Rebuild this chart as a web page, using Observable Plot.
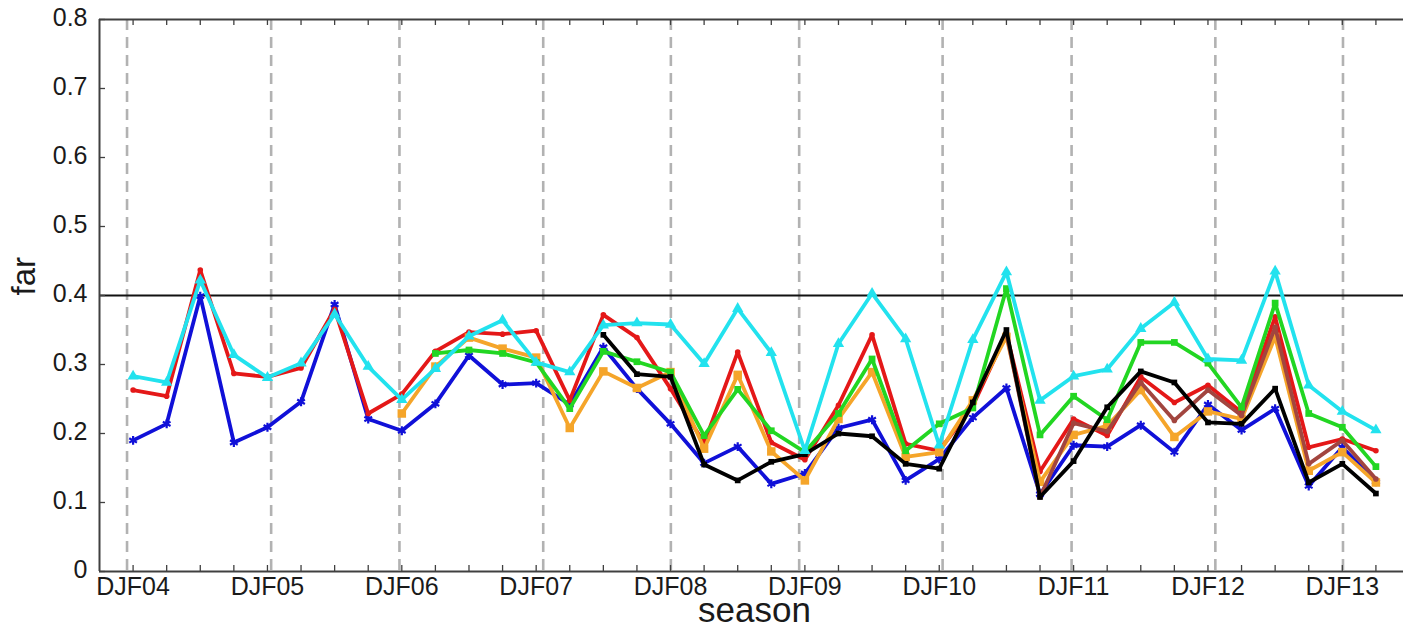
<!DOCTYPE html>
<html>
<head>
<meta charset="utf-8">
<script src="https://cdn.jsdelivr.net/npm/d3@7"></script>
<script src="https://cdn.jsdelivr.net/npm/@observablehq/plot@0.6"></script>
<style>
  html, body { margin: 0; padding: 0; overflow: hidden; background: #fff; }
  #chart { width: 1420px; }
</style>
</head>
<body>
<div id="chart"></div>
<script>
// ---- tick labels / categories ----
const seasons = [
  "DJF04","MAM04","JJA04","SON04",
  "DJF05","MAM05","JJA05","SON05",
  "DJF06","MAM06","JJA06","SON06",
  "DJF07","MAM07","JJA07","SON07",
  "DJF08","MAM08","JJA08","SON08",
  "DJF09","MAM09","JJA09","SON09",
  "DJF10","MAM10","JJA10","SON10",
  "DJF11","MAM11","JJA11","SON11",
  "DJF12","MAM12","JJA12","SON12",
  "DJF13","MAM13"
];
const labelledSeasons = ["DJF04","DJF05","DJF06","DJF07","DJF08","DJF09","DJF10","DJF11","DJF12","DJF13"];
// dashed year separators (position on the season index axis)
const yearSeparators = [-0.18, 4.11, 7.93, 12.21, 16.01, 19.83, 24.1, 27.94, 32.22, 36.02];
const yTicks = [0, 0.1, 0.2, 0.3, 0.4, 0.5, 0.6, 0.7, 0.8];
const yTickLabels = ["0", "0.1", "0.2", "0.3", "0.4", "0.5", "0.6", "0.7", "0.8"];
const referenceLevel = [0.4];

// ---- series values (null = no value) ----
const blueValues = [0.190,0.214,0.399,0.187,0.209,0.246,0.387,0.221,0.204,0.243,0.313,0.271,0.273,0.242,0.325,0.265,0.214,0.157,0.181,0.127,0.142,0.208,0.220,0.132,0.163,0.223,0.266,0.112,0.183,0.181,0.212,0.173,0.242,0.205,0.236,0.124,0.180,0.130];
const redValues = [0.263,0.254,0.437,0.287,0.282,0.295,0.380,0.229,0.257,0.319,0.347,0.344,0.349,0.248,0.372,0.339,0.265,0.186,0.318,0.187,0.162,0.241,0.343,0.185,0.175,0.240,0.345,0.145,0.221,0.197,0.282,0.245,0.270,0.231,0.369,0.180,0.192,0.175];
const cyanValues = [0.283,0.274,0.422,0.314,0.281,0.302,0.373,0.297,0.249,0.294,0.341,0.364,0.303,0.289,0.357,0.360,0.358,0.301,0.381,0.317,0.175,0.330,0.403,0.337,0.183,0.336,0.434,0.248,0.283,0.293,0.352,0.390,0.308,0.306,0.435,0.270,0.232,0.205];
const greenValues = [null,null,null,null,null,null,null,null,null,0.316,0.321,0.316,0.303,0.236,0.319,0.304,0.289,0.197,0.264,0.204,0.173,0.229,0.308,0.175,0.214,0.237,0.410,0.198,0.254,0.220,0.332,0.332,0.302,0.238,0.389,0.229,0.209,0.152];
const orangeValues = [null,null,null,null,null,null,null,null,0.229,0.297,0.339,0.323,0.310,0.208,0.290,0.266,0.289,0.178,0.285,0.174,0.132,0.221,0.289,0.166,0.173,0.248,0.340,0.130,0.198,0.211,0.263,0.195,0.232,0.221,0.340,0.146,0.173,0.129];
const blackValues = [null,null,null,null,null,null,null,null,null,null,null,null,null,null,0.343,0.286,0.282,0.155,0.132,0.159,0.170,0.200,0.196,0.156,0.149,0.245,0.350,0.108,0.160,0.238,0.290,0.274,0.216,0.214,0.265,0.129,0.156,0.113];
const brownValues = [null,null,null,null,null,null,null,null,null,null,null,null,null,null,null,null,null,null,null,null,null,null,null,null,null,null,0.345,0.108,0.215,0.203,0.274,0.219,0.263,0.226,0.354,0.156,0.190,0.134];

// ---- styles (drawing order: first is bottom) ----
const seriesDefs = [
  {name: "blue",   values: blueValues,   color: "#1010d8", symbol: "asterisk", r: 4.2, filled: false},
  {name: "red",    values: redValues,    color: "#e41818", symbol: "circle",   r: 2.8, filled: true},
  {name: "orange", values: orangeValues, color: "#f5a52a", symbol: "square",   r: 4.8, filled: true},
  {name: "brown",  values: brownValues,  color: "#a2453f", symbol: "circle",   r: 2.8, filled: true},
  {name: "green",  values: greenValues,  color: "#22d622", symbol: "square",   r: 3.8, filled: true},
  {name: "black",  values: blackValues,  color: "#000000", symbol: "square",   r: 3.2, filled: true},
  {name: "cyan",   values: cyanValues,   color: "#22e2ee", symbol: "triangle", r: 4.2, filled: true}
];

const seasonIndex = seasons.map((s, i) => i);
const labelIndex = labelledSeasons.map(s => seasons.indexOf(s));

const W = 1420, H = 627;
const mL = 99, mR = 11, mT = 19, mB = 56;
const frameW = W - mL - mR, frameH = H - mT - mB;
const axisColor = "#404040";

const marks = [
  // dashed year separators
  Plot.ruleX(yearSeparators, {x: d => d, stroke: "#b2b2b2", strokeWidth: 2.6, strokeDasharray: "11,7"}),
  // reference line
  Plot.ruleY(referenceLevel, {y: d => d, stroke: "#111", strokeWidth: 2})
];

for (const s of seriesDefs) {
  const rows = [];
  s.values.forEach((v, i) => { if (v != null) rows.push({i, v}); });
  marks.push(Plot.line(rows, {x: "i", y: "v", stroke: s.color, strokeWidth: 3.8, strokeLinejoin: "round"}));
  if (s.filled) {
    marks.push(Plot.dot(rows, {x: "i", y: "v", symbol: s.symbol, r: s.r, fill: s.color, stroke: "none"}));
  } else {
    marks.push(Plot.dot(rows, {x: "i", y: "v", symbol: s.symbol, r: s.r, stroke: s.color, strokeWidth: 2.2, fill: "none"}));
  }
}

// frame lines
marks.push(
  Plot.ruleY([0], {y: d => d, stroke: axisColor, strokeWidth: 2}),
  Plot.ruleY([0.8], {y: d => d, stroke: axisColor, strokeWidth: 2}),
  Plot.ruleX([-1], {x: d => d, stroke: axisColor, strokeWidth: 2}),
  // inward ticks
  Plot.tickX(seasonIndex, {x: d => d, insetTop: frameH - 6, stroke: axisColor, strokeWidth: 1.3}),
  Plot.tickX(seasonIndex, {x: d => d, insetBottom: frameH - 6, stroke: axisColor, strokeWidth: 1.3}),
  Plot.tickY(yTicks, {y: d => d, insetRight: frameW - 6, stroke: axisColor, strokeWidth: 1.3}),
  // axes labels
  Plot.axisX({ticks: labelIndex, tickFormat: i => seasons[i], tickSize: 0, tickPadding: 6, fontSize: 25, label: null, fill: "#1a1a1a"}),
  Plot.axisY({ticks: yTicks, tickFormat: d => yTickLabels[yTicks.indexOf(d)], tickSize: 0, tickPadding: 12, fontSize: 25, label: null, dy: -2, fill: "#1a1a1a"}),
  Plot.text(["season"], {text: d => d, frameAnchor: "bottom", dy: 39, fontSize: 35, lineAnchor: "middle", fill: "#1a1a1a"}),
  Plot.text(["far"], {text: d => d, frameAnchor: "left", rotate: -90, dx: -75, fontSize: 33, lineAnchor: "middle", fill: "#1a1a1a"})
);

const chart = Plot.plot({
  width: W,
  height: H,
  marginLeft: mL,
  marginRight: mR,
  marginTop: mT,
  marginBottom: mB,
  style: {fontFamily: "'Liberation Sans', Arial, Helvetica, sans-serif", background: "#fff", overflow: "visible"},
  x: {type: "linear", domain: [-1, 38], axis: null},
  y: {type: "linear", domain: [0, 0.8], axis: null},
  marks
});
document.getElementById("chart").appendChild(chart);
</script>
</body>
</html>
